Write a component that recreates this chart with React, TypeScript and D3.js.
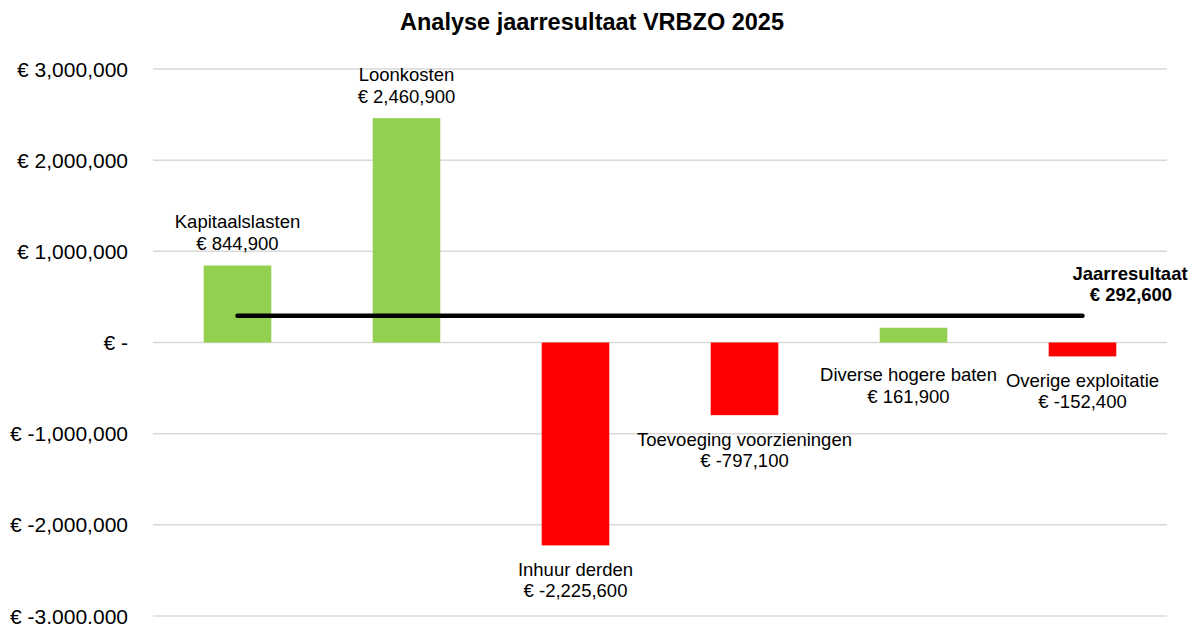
import React from "react";
import * as d3 from "d3";

const categories = [
  "Kapitaalslasten",
  "Loonkosten",
  "Inhuur derden",
  "Toevoeging voorzieningen",
  "Diverse hogere baten",
  "Overige exploitatie",
];
const values = [844900, 2460900, -2225600, -797100, 161900, -152400];
const resultLabel = "Jaarresultaat";
const resultValue = 292600;
const yTicks = [3000000, 2000000, 1000000, 0, -1000000, -2000000, -3000000];
const title = "Analyse jaarresultaat VRBZO 2025";

// label placement styling (offsets in px): [dx, dy for first baseline relative to anchor]
const labelPlacement = [
  { side: "top", dx: 0 },
  { side: "top", dx: 0 },
  { side: "bottom", dx: 0 },
  { side: "bottom", dx: 0 },
  { side: "zeroBelow", dx: -5 },
  { side: "bottom", dx: 0 },
];

const W = 1199;
const H = 624;
const FONT = "'Liberation Sans', Arial, sans-serif";

const fmt = (v: number) => {
  if (v === 0) return "€ -";
  const s = d3.format(",")(Math.abs(v));
  return v < 0 ? `€ -${s}` : `€ ${s}`;
};

export default function App() {
  const x = d3
    .scaleBand<string>()
    .domain(categories)
    .range([153, 1167])
    .paddingInner(0.6)
    .paddingOuter(0.3);
  const y = d3.scaleLinear().domain([-3000000, 3000000]).range([616, 69]);
  const bw = x.bandwidth();
  const cx = (c: string) => (x(c) as number) + bw / 2;
  const LS = 21.5;

  return (
    <svg
      width={W}
      height={H}
      style={{ position: "absolute", left: 0, top: 0, background: "#fff" }}
      fontFamily={FONT}
    >
      <text x={592} y={30} textAnchor="middle" fontSize={23.5} fontWeight="bold" fill="#000">
        {title}
      </text>
      {yTicks.map((t) => (
        <g key={t}>
          <line x1={153} x2={1167} y1={y(t)} y2={y(t)} stroke="#d9d9d9" strokeWidth={1.5} />
          <text x={128} y={y(t)} dy="0.36em" textAnchor="end" fontSize={21} fill="#000">
            {fmt(t)}
          </text>
        </g>
      ))}
      {categories.map((c, i) => {
        const v = values[i];
        return (
          <rect
            key={c}
            x={x(c)}
            width={bw}
            y={Math.min(y(v), y(0))}
            height={Math.abs(y(v) - y(0))}
            fill={v >= 0 ? "#92d050" : "#ff0000"}
          />
        );
      })}
      <line
        x1={cx(categories[0])}
        x2={cx(categories[categories.length - 1])}
        y1={y(resultValue)}
        y2={y(resultValue)}
        stroke="#000"
        strokeWidth={4.5}
        strokeLinecap="round"
      />
      {categories.map((c, i) => {
        const v = values[i];
        const p = labelPlacement[i];
        let b1: number;
        if (p.side === "top") b1 = y(v) - 15.5 - LS;
        else if (p.side === "bottom") b1 = y(v) + 30.5;
        else b1 = y(0) + 38.5;
        const xx = cx(c) + p.dx;
        return (
          <g key={c} fontSize={18.5} fill="#000" textAnchor="middle">
            <text x={xx} y={b1}>{c}</text>
            <text x={xx} y={b1 + LS}>{fmt(v)}</text>
          </g>
        );
      })}
      <g fontSize={18.5} fontWeight="bold" fill="#000" textAnchor="middle">
        <text x={1130} y={y(resultValue) - 14.5 - LS}>{resultLabel}</text>
        <text x={1131} y={y(resultValue) - 14.5}>{fmt(resultValue)}</text>
      </g>
    </svg>
  );
}
